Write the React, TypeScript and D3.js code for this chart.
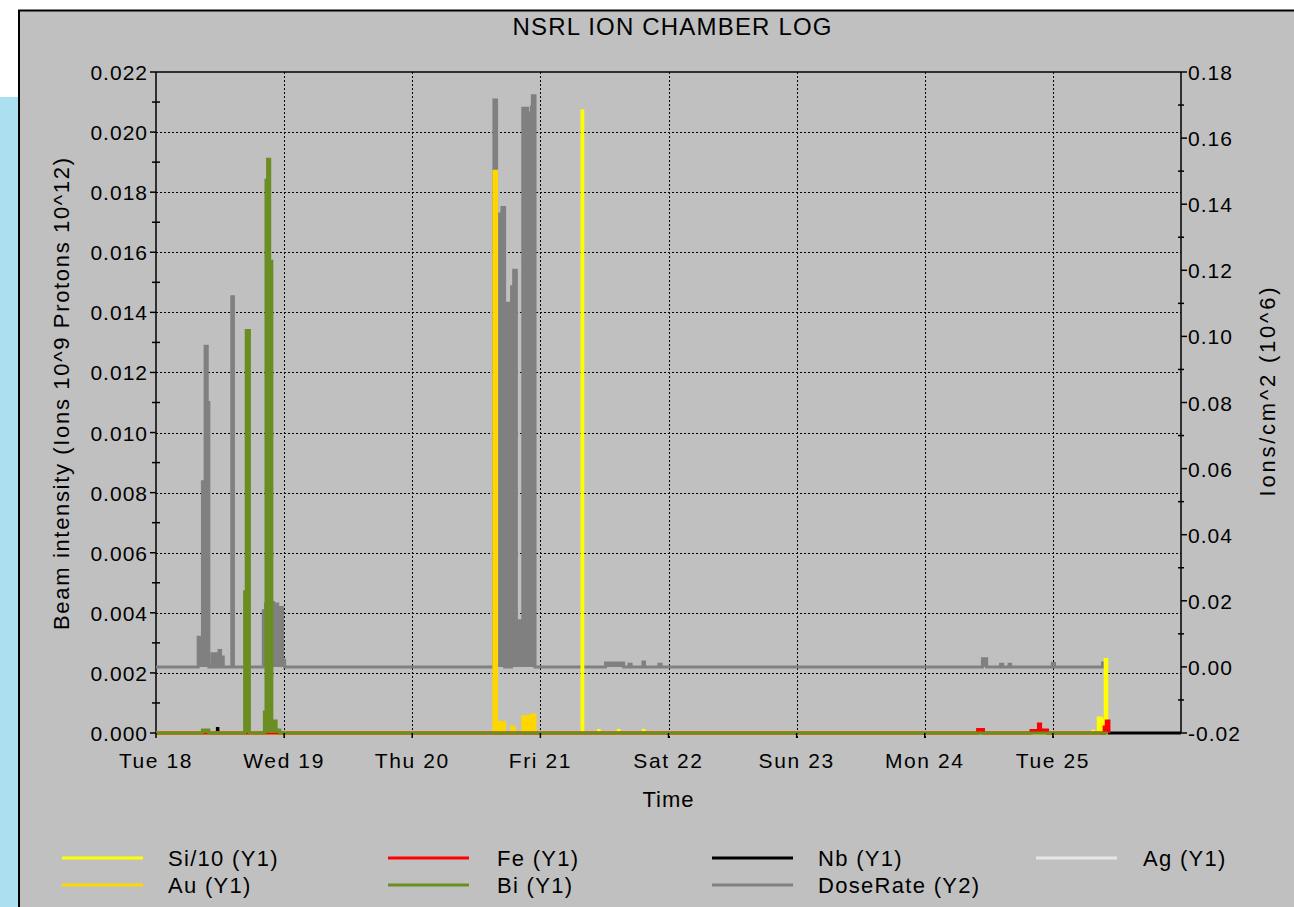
import * as d3 from "d3";
import React from "react";

// time is hours after Tue 18 00:00
const start = new Date(2020, 1, 18);
const end = new Date(2020, 1, 26);

type Pt = [number, number];

// Y2 (Ions/cm^2 10^6)
const doseRate: Pt[] = [
  [0, 0],
  [7.9, 0.009], [8.3, 0.003], [8.7, 0.056], [9.2, 0.097], [9.6, 0.08], [9.9, 0],
  [10.5, 0.004], [10.8, 0], [11.1, 0.004], [11.4, 0], [11.8, 0.005], [12.1, 0], [12.4, 0.003], [12.6, 0],
  [14.2, 0.112], [14.5, 0],
  [20.1, 0.017], [20.5, 0.019], [21.4, 0.0195], [22.0, 0.012], [22.4, 0.019], [22.8, 0.004], [23.2, 0.018], [23.7, 0.002], [24.1, 0],
  [63.3, 0.1715], [63.8, 0.133], [64.3, 0.137], [64.8, 0.139], [65.3, 0], [65.8, 0.11], [66.2, 0],
  [66.6, 0.115], [67.0, 0.12], [67.5, 0.014], [67.9, 0.011], [68.3, 0.014], [68.7, 0.169],
  [69.6, 0.1676], [70.3, 0.1694], [70.5, 0.1728], [71.0, 0],
  [84.2, 0.0012], [87.6, 0], [88.6, 0.0008], [89.0, 0], [91.2, 0.0015], [91.5, 0], [94.2, 0.0008], [94.6, 0],
  [154.8, 0.0025], [155.6, 0], [158.2, 0.0008], [158.6, 0], [159.8, 0.0008], [160.1, 0],
  [167.9, 0.001], [168.3, 0], [177.3, 0.0012], [177.7, 0], [178.1, 0],
];

// Y1 series
const ag: Pt[] = [[0, 0], [178.3, 0]];
const nb: Pt[] = [[0, 0], [11.5, 0.00015], [11.6, 0], [192, 0]];
const au: Pt[] = [
  [0, 0], [63.3, 0.0187], [63.8, 0.00035], [65.3, 0], [66.6, 0.0002], [67.1, 0],
  [68.7, 0.00055], [70.3, 0.0006], [71.0, 0], [178.3, 0],
];
const si10: Pt[] = [
  [0, 0], [79.8, 0.0207], [79.95, 0], [82.9, 0.00008], [83.0, 0], [86.6, 0.00008], [86.7, 0],
  [91.3, 0.00008], [91.4, 0], [175.5, 0.00006], [175.6, 0], [176.5, 0.0005], [177.1, 0.00043],
  [177.8, 0.00245], [178.1, 0], [178.3, 0],
];
const fe: Pt[] = [
  [0, 0], [153.9, 0.00012], [155.0, 0], [163.9, 0.00008], [165.3, 0.0003], [165.7, 0.0001],
  [167.0, 0], [177.6, 0.0002], [178.0, 0.0004], [178.5, 0],
];
const bi: Pt[] = [
  [0, 0], [8.7, 0.0001], [9.9, 0], [16.6, 0.0047], [16.9, 0.0134], [17.5, 0],
  [20.3, 0.0007], [20.6, 0.0184], [20.9, 0.0191], [21.3, 0.0157], [21.7, 0.0004],
  [22.5, 0.0001], [23.2, 0], [178.3, 0],
];

const legend = [
  { label: "Si/10 (Y1)", color: "#ffff00" },
  { label: "Au (Y1)", color: "#ffd700" },
  { label: "Fe (Y1)", color: "#ff0000" },
  { label: "Bi (Y1)", color: "#6b8e23" },
  { label: "Nb (Y1)", color: "#000000" },
  { label: "DoseRate (Y2)", color: "#808080" },
  { label: "Ag (Y1)", color: "#e6e6e6" },
];

const W = 1294;
const H = 907;
const left = 156, right = 1181, top = 72, bottom = 733;
const font = "'Liberation Sans', Arial, sans-serif";

const T = (h: number) => new Date(+start + h * 3600000);

export default function App() {
  const x = d3.scaleTime().domain([start, end]).range([left, right]);
  const y1 = d3.scaleLinear().domain([0, 0.022]).range([bottom, top]);
  const y2 = d3.scaleLinear().domain([-0.02, 0.18]).range([bottom, top]);

  const f1 = d3.format(".3f");
  const f2 = (v: number) => d3.format(".2f")(v).replace("\u2212", "-");

  const y1Major = y1.ticks(11);
  const y1Minor = y1.ticks(22).filter((v) => !y1Major.some((m) => Math.abs(m - v) < 1e-9));
  const y2Major = y2.ticks(10);
  const y2Minor = y2.ticks(20).filter((v) => !y2Major.some((m) => Math.abs(m - v) < 1e-9));
  const days = x.ticks(d3.timeDay.every(1)!);
  const fmtDay = d3.timeFormat("%a %d");

  const series = (data: Pt[], y: d3.ScaleLinear<number, number>, color: string, key: string) => {
    const a = d3
      .area<Pt>()
      .x((d) => x(T(d[0])))
      .y0(y(0))
      .y1((d) => y(d[1]))
      .curve(d3.curveStepAfter);
    const l = d3
      .line<Pt>()
      .x((d) => x(T(d[0])))
      .y((d) => y(d[1]))
      .curve(d3.curveStepAfter);
    return (
      <g key={key}>
        <path d={a(data) ?? undefined} fill={color} />
        <path d={l(data) ?? undefined} fill="none" stroke={color} strokeWidth={3} />
      </g>
    );
  };

  const legendPos = [
    { lx: 62, tx: 168, ly: 858 },
    { lx: 62, tx: 168, ly: 885 },
    { lx: 388, tx: 497, ly: 858 },
    { lx: 388, tx: 497, ly: 885 },
    { lx: 712, tx: 818, ly: 858 },
    { lx: 712, tx: 818, ly: 885 },
    { lx: 1036, tx: 1143, ly: 858 },
  ];

  return (
    <svg
      width={W}
      height={H}
      style={{ position: "absolute", left: 0, top: 0, fontFamily: font }}
    >
      <rect x={0} y={0} width={W} height={H} fill="#ffffff" />
      <rect x={0} y={97} width={18} height={H - 97} fill="#acdff0" />
      <rect x={18} y={10} width={W - 18} height={H - 10} fill="#c0c0c0" />
      <line x1={18} y1={10.5} x2={W} y2={10.5} stroke="#000" strokeWidth={2} />
      <line x1={19} y1={10} x2={19} y2={H} stroke="#000" strokeWidth={2} />

      <text x={672} y={35} fontSize={24} textAnchor="middle" textLength={319} lengthAdjust="spacing">
        NSRL ION CHAMBER LOG
      </text>

      {/* grid */}
      <g stroke="#000" strokeWidth={1} strokeDasharray="2,2">
        {y1Major
          .filter((v) => v > 0 && v < 0.0215)
          .map((v) => (
            <line key={v} x1={left} x2={right} y1={Math.round(y1(v)) + 0.5} y2={Math.round(y1(v)) + 0.5} />
          ))}
        {days.slice(1, -1).map((d) => (
          <line key={+d} x1={Math.round(x(d)) + 0.5} x2={Math.round(x(d)) + 0.5} y1={top} y2={bottom + 5} />
        ))}
      </g>

      {/* frame */}
      <g stroke="#000" strokeWidth={1.5} fill="none">
        <line x1={left} x2={right} y1={top} y2={top} />
        <line x1={left} x2={right} y1={bottom} y2={bottom} />
        <line x1={left} x2={left} y1={top} y2={bottom} />
        <line x1={right} x2={right} y1={top} y2={bottom} />
      </g>

      {/* data */}
      {series(doseRate, y2, "#808080", "dose")}
      {series(ag, y1, "#e6e6e6", "ag")}
      {series(nb, y1, "#000000", "nb")}
      {series(au, y1, "#ffd700", "au")}
      {series(si10, y1, "#ffff00", "si")}
      {series(fe, y1, "#ff0000", "fe")}
      {series(bi, y1, "#6b8e23", "bi")}

      {/* ticks */}
      <g stroke="#000" strokeWidth={1.5}>
        {y1Major.map((v) => (
          <line key={v} x1={left - 6} x2={left} y1={y1(v)} y2={y1(v)} />
        ))}
        {y1Minor.map((v) => (
          <line key={v} x1={left - 4} x2={left + 4} y1={y1(v)} y2={y1(v)} />
        ))}
        {y2Major.map((v) => (
          <line key={v} x1={right} x2={right + 6} y1={y2(v)} y2={y2(v)} />
        ))}
        {y2Minor.map((v) => (
          <line key={v} x1={right - 3} x2={right + 3} y1={y2(v)} y2={y2(v)} />
        ))}
        {days.slice(0, -1).map((d) => (
          <line key={+d} x1={x(d)} x2={x(d)} y1={bottom} y2={bottom + 5} />
        ))}
      </g>
      <g fontSize={21} letterSpacing={1}>
        {y1Major.map((v) => (
          <text key={v} x={148} y={y1(v) + 8} textAnchor="end">
            {f1(v)}
          </text>
        ))}
        {y2Major.map((v) => (
          <text key={v} x={1188} y={y2(v) + 8}>
            {f2(v)}
          </text>
        ))}
        {days.slice(0, -1).map((d) => (
          <text key={+d} x={x(d)} y={768} textAnchor="middle" letterSpacing={1.6}>
            {fmtDay(d)}
          </text>
        ))}
      </g>

      <text x={668} y={807} fontSize={22} textAnchor="middle" textLength={51} lengthAdjust="spacing">
        Time
      </text>
      <text
        transform="translate(69,394) rotate(-90)"
        fontSize={22}
        textAnchor="middle"
        textLength={472}
        lengthAdjust="spacing"
      >
        Beam intensity (Ions 10^9 Protons 10^12)
      </text>
      <text
        transform="translate(1275,392) rotate(-90)"
        fontSize={22}
        textAnchor="middle"
        textLength={209}
        lengthAdjust="spacing"
      >
        Ions/cm^2 (10^6)
      </text>

      {/* legend */}
      <g fontSize={22} letterSpacing={1.3}>
        {legend.map((s, i) => {
          const p = legendPos[i];
          return (
            <g key={s.label}>
              <line x1={p.lx} x2={p.lx + 81} y1={p.ly} y2={p.ly} stroke={s.color} strokeWidth={3} />
              <text x={p.tx} y={p.ly + 8}>
                {s.label}
              </text>
            </g>
          );
        })}
      </g>
    </svg>
  );
}
